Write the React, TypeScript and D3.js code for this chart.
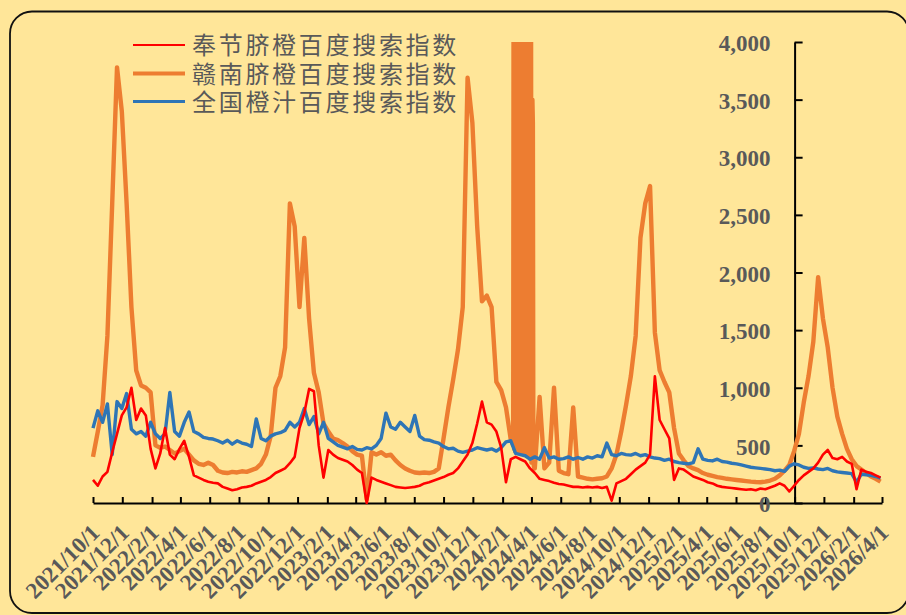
import { useEffect, useRef } from "react";
import * as d3 from "d3";

const WIDTH = 906;
const HEIGHT = 615;

// legend / series
const seriesNames = ["奉节脐橙百度搜索指数", "赣南脐橙百度搜索指数", "全国橙汁百度搜索指数"];
const seriesColors = ["#FF0000", "#ED7D31", "#2E75B6"];
const seriesWidths = [2.6, 4.4, 3.4];
const legendWidths = [2.2, 4, 3];

// axis ticks
const xTickLabels = [
  "2021/10/1", "2021/12/1", "2022/2/1", "2022/4/1", "2022/6/1", "2022/8/1", "2022/10/1",
  "2022/12/1", "2023/2/1", "2023/4/1", "2023/6/1", "2023/8/1", "2023/10/1", "2023/12/1",
  "2024/2/1", "2024/4/1", "2024/6/1", "2024/8/1", "2024/10/1", "2024/12/1", "2025/2/1",
  "2025/4/1", "2025/6/1", "2025/8/1", "2025/10/1", "2025/12/1", "2026/2/1", "2026/4/1",
];
const yTicks = [0, 500, 1000, 1500, 2000, 2500, 3000, 3500, 4000];
const yAxisCrossing = "2025/10/1";

// values read every 10 days starting 2021/10/1
const sampleStart = "2021/10/1";
const sampleStepDays = 10;

const fengjie = [
  200, 150, 230, 270, 440, 600, 760, 830, 1000, 720,
  820, 760, 470, 300, 430, 650, 420, 380, 470, 540,
  400, 240, 220, 200, 185, 175, 170, 140, 125, 110,
  120, 135, 140, 150, 170, 185, 200, 225, 260, 280,
  300, 345, 400, 650, 780, 990, 970, 500, 220, 460,
  420, 390, 375, 360, 330, 290, 260, 0, 220, 200,
  185, 170, 155, 140, 135, 130, 135, 140, 150, 170,
  180, 195, 210, 225, 245, 260, 300, 360, 420, 520,
  690, 880, 700, 680, 620, 480, 180, 380, 400, 380,
  360, 300, 260, 210, 200, 190, 175, 165, 160, 150,
  140, 140, 135, 140, 135, 140, 130, 140, 20, 170,
  190, 210, 250, 290, 320, 350, 420, 1100, 720, 640,
  560, 200, 300, 290, 260, 230, 215, 200, 180, 170,
  150, 140, 135, 130, 125, 120, 115, 120, 110, 125,
  120, 135, 150, 170, 150, 100, 150, 200, 240, 270,
  300, 350, 420, 460, 390, 380, 400, 360, 340, 120,
  290, 270, 260, 240, 220,
];

// null = covered by the daily burst values below
const gannan: (number | null)[] = [
  400, 620, 850, 1450, 2600, 3780, 3400, 2600, 1700, 1150,
  1020, 1000, 960, 500, 480, 490, 460, 430, 450, 470,
  420, 370, 340, 330, 350, 330, 280, 265, 260, 270,
  265, 275, 270, 285, 300, 340, 420, 580, 1000, 1100,
  1350, 2600, 2400, 1700, 2300, 1600, 1130, 960, 690, 620,
  560, 545, 520, 490, 450, 420, 410, 30, 440, 420,
  440, 410, 420, 370, 330, 300, 280, 265, 260, 265,
  260, 270, 300, 560, 830, 1070, 1330, 1700, 3690, 3300,
  2400, 1750, 1800, 1700, 1050, 980, 830, 550, null, null,
  null, null, 300, 920, 300, 350, 1000, 280, 260, 250,
  830, 230, 220, 210, 205, 210, 215, 230, 300, 420,
  620, 850, 1100, 1450, 2300, 2600, 2750, 1480, 1150, 1050,
  960, 650, 430, 370, 320, 300, 285, 260, 245, 235,
  225, 218, 210, 205, 200, 195, 190, 185, 182, 180,
  185, 195, 210, 240, 280, 330, 450, 600, 870, 1100,
  1400, 1960, 1600, 1350, 1000, 750, 600, 470, 380, 320,
  290, 260, 230, 210, 185,
];

// daily values from 2024/2/23, the solid orange block
const gannanBurstStart = "2024/2/23";
const gannanBurst = [
  500, 5600, 470, 6100, 450, 5800, 520, 6400, 480, 5900,
  440, 6200, 490, 5700, 460, 6000, 430, 2600, 450, 6300,
  470, 5600, 440, 6100, 460, 5900, 420, 6200, 450, 5700,
  430, 6000, 410, 5800, 400, 5500, 380, 5200, 350, 500,
  3500, 3300, 400, 320, 300,
];

const juice = [
  650, 800, 700, 860, 420, 880, 820, 950, 640, 600,
  620, 580, 700, 600, 560, 600, 960, 620, 580, 700,
  790, 620, 600, 570, 560, 555, 540, 520, 545, 510,
  540, 520, 510, 490, 730, 560, 540, 580, 600, 610,
  630, 700, 660, 700, 820, 680, 750, 600, 700, 560,
  530, 500, 485, 470, 490, 465, 460, 480, 470, 500,
  560, 780, 660, 640, 700, 660, 620, 760, 580, 550,
  545, 530, 520, 490, 470, 475, 450, 440, 450, 460,
  480, 470, 460, 470, 450, 480, 530, 540, 430, 420,
  410, 380, 400, 380, 480, 390, 400, 380, 385, 400,
  380, 395, 380, 400, 390, 410, 400, 520, 420, 410,
  430, 420, 415, 430, 410, 420, 400, 390, 385, 370,
  380, 360, 350, 345, 340, 350, 470, 380, 370, 365,
  380, 360, 355, 345, 340, 330, 320, 310, 305, 300,
  295, 290, 280, 285, 275, 320, 340, 330, 310, 300,
  305, 295, 290, 300, 280, 270, 265, 260, 255, 180,
  250, 245, 240, 230, 215,
];

type Pt = { date: Date; value: number };

const parseDate = d3.timeParse("%Y/%m/%d");

function gridPoints(values: (number | null)[]): Pt[] {
  const start = parseDate(sampleStart)!;
  const pts: Pt[] = [];
  values.forEach((v, i) => {
    if (v == null) return;
    pts.push({ date: d3.timeDay.offset(start, i * sampleStepDays), value: v });
  });
  return pts;
}

export default function App() {
  const svgRef = useRef<SVGSVGElement>(null);

  useEffect(() => {
    if (!svgRef.current) return;
    document.body.style.margin = "0";

    const svg = d3.select(svgRef.current);
    svg.selectAll("*").remove();

    const plot = { left: 93, right: 882, top: 42, bottom: 503 };
    const labelFont = "'Liberation Serif', 'Times New Roman', serif";
    const labelColor = "#595959";

    const xTicks = xTickLabels.map((s) => parseDate(s)!);
    const x = d3
      .scaleTime()
      .domain([xTicks[0], xTicks[xTicks.length - 1]])
      .range([plot.left, plot.right]);
    const y = d3.scaleLinear().domain([0, 4000]).range([plot.bottom, plot.top]);

    // background + rounded frame
    svg.append("rect").attr("width", WIDTH).attr("height", HEIGHT).attr("fill", "#FFE699");
    svg
      .append("rect")
      .attr("x", 10)
      .attr("y", 11.5)
      .attr("width", 899)
      .attr("height", 601.5)
      .attr("rx", 22)
      .attr("fill", "none")
      .attr("stroke", "#111")
      .attr("stroke-width", 1.8);

    // x axis
    svg
      .append("g")
      .attr("transform", `translate(0, ${plot.bottom})`)
      .call(
        d3
          .axisBottom(x)
          .tickValues(xTicks)
          .tickSizeInner(-6)
          .tickSizeOuter(0)
          .tickFormat(() => "")
      )
      .call((g) => g.select(".domain").attr("stroke", "#000").attr("stroke-width", 2))
      .call((g) => g.selectAll(".tick line").attr("stroke", "#000").attr("stroke-width", 2));

    // y axis crossing at 2025/10/1
    const yAxisX = x(parseDate(yAxisCrossing)!);
    svg
      .append("g")
      .attr("transform", `translate(${yAxisX}, 0)`)
      .call(
        d3
          .axisLeft(y)
          .tickValues(yTicks)
          .tickSizeInner(-8)
          .tickSizeOuter(0)
          .tickFormat(() => "")
      )
      .call((g) => g.select(".domain").attr("stroke", "#000").attr("stroke-width", 2))
      .call((g) => g.selectAll(".tick line").attr("stroke", "#000").attr("stroke-width", 2));

    // series
    const clipId = "plotClip";
    svg
      .append("defs")
      .append("clipPath")
      .attr("id", clipId)
      .append("rect")
      .attr("x", plot.left - 3)
      .attr("y", plot.top)
      .attr("width", plot.right - plot.left + 6)
      .attr("height", plot.bottom - plot.top + 3);

    const burstStart = parseDate(gannanBurstStart)!;
    const orangePts = gridPoints(gannan)
      .concat(gannanBurst.map((v, i) => ({ date: d3.timeDay.offset(burstStart, i), value: v })))
      .sort((a, b) => +a.date - +b.date);

    const seriesData: Pt[][] = [gridPoints(fengjie), orangePts, gridPoints(juice)];

    const line = d3
      .line<Pt>()
      .x((d) => x(d.date))
      .y((d) => y(d.value));

    const plotG = svg.append("g").attr("clip-path", `url(#${clipId})`);
    // drawing order: orange under, then blue, red on top
    [1, 2, 0].forEach((i) => {
      plotG
        .append("path")
        .datum(seriesData[i])
        .attr("fill", "none")
        .attr("stroke", seriesColors[i])
        .attr("stroke-width", seriesWidths[i])
        .attr("stroke-linejoin", "round")
        .attr("d", line);
    });

    // y labels
    yTicks.forEach((v) => {
      svg
        .append("text")
        .attr("x", yAxisX - 24)
        .attr("y", y(v))
        .attr("dy", "0.4em")
        .attr("text-anchor", "end")
        .attr("font-family", labelFont)
        .attr("font-weight", "bold")
        .attr("font-size", 23)
        .attr("fill", labelColor)
        .text(d3.format(",")(v));
    });

    // x labels, rotated
    xTicks.forEach((d, i) => {
      svg
        .append("text")
        .attr("transform", `translate(${x(d) + 8}, 534) rotate(-45)`)
        .attr("text-anchor", "end")
        .attr("font-family", labelFont)
        .attr("font-weight", "bold")
        .attr("font-size", 23)
        .attr("fill", labelColor)
        .text(xTickLabels[i]);
    });

    // legend
    const legendRows = [45, 73.5, 101.5];
    seriesNames.forEach((name, i) => {
      svg
        .append("line")
        .attr("x1", 133)
        .attr("x2", 185)
        .attr("y1", legendRows[i])
        .attr("y2", legendRows[i])
        .attr("stroke", seriesColors[i])
        .attr("stroke-width", legendWidths[i]);
      svg
        .append("text")
        .attr("x", 192)
        .attr("y", legendRows[i])
        .attr("dy", "0.38em")
        .attr("font-family", "'Noto Sans CJK SC', sans-serif")
        .attr("font-size", 24)
        .attr("letter-spacing", 2.7)
        .attr("fill", labelColor)
        .text(name);
    });
  }, []);

  return <svg ref={svgRef} width={WIDTH} height={HEIGHT} style={{ display: "block" }} />;
}
